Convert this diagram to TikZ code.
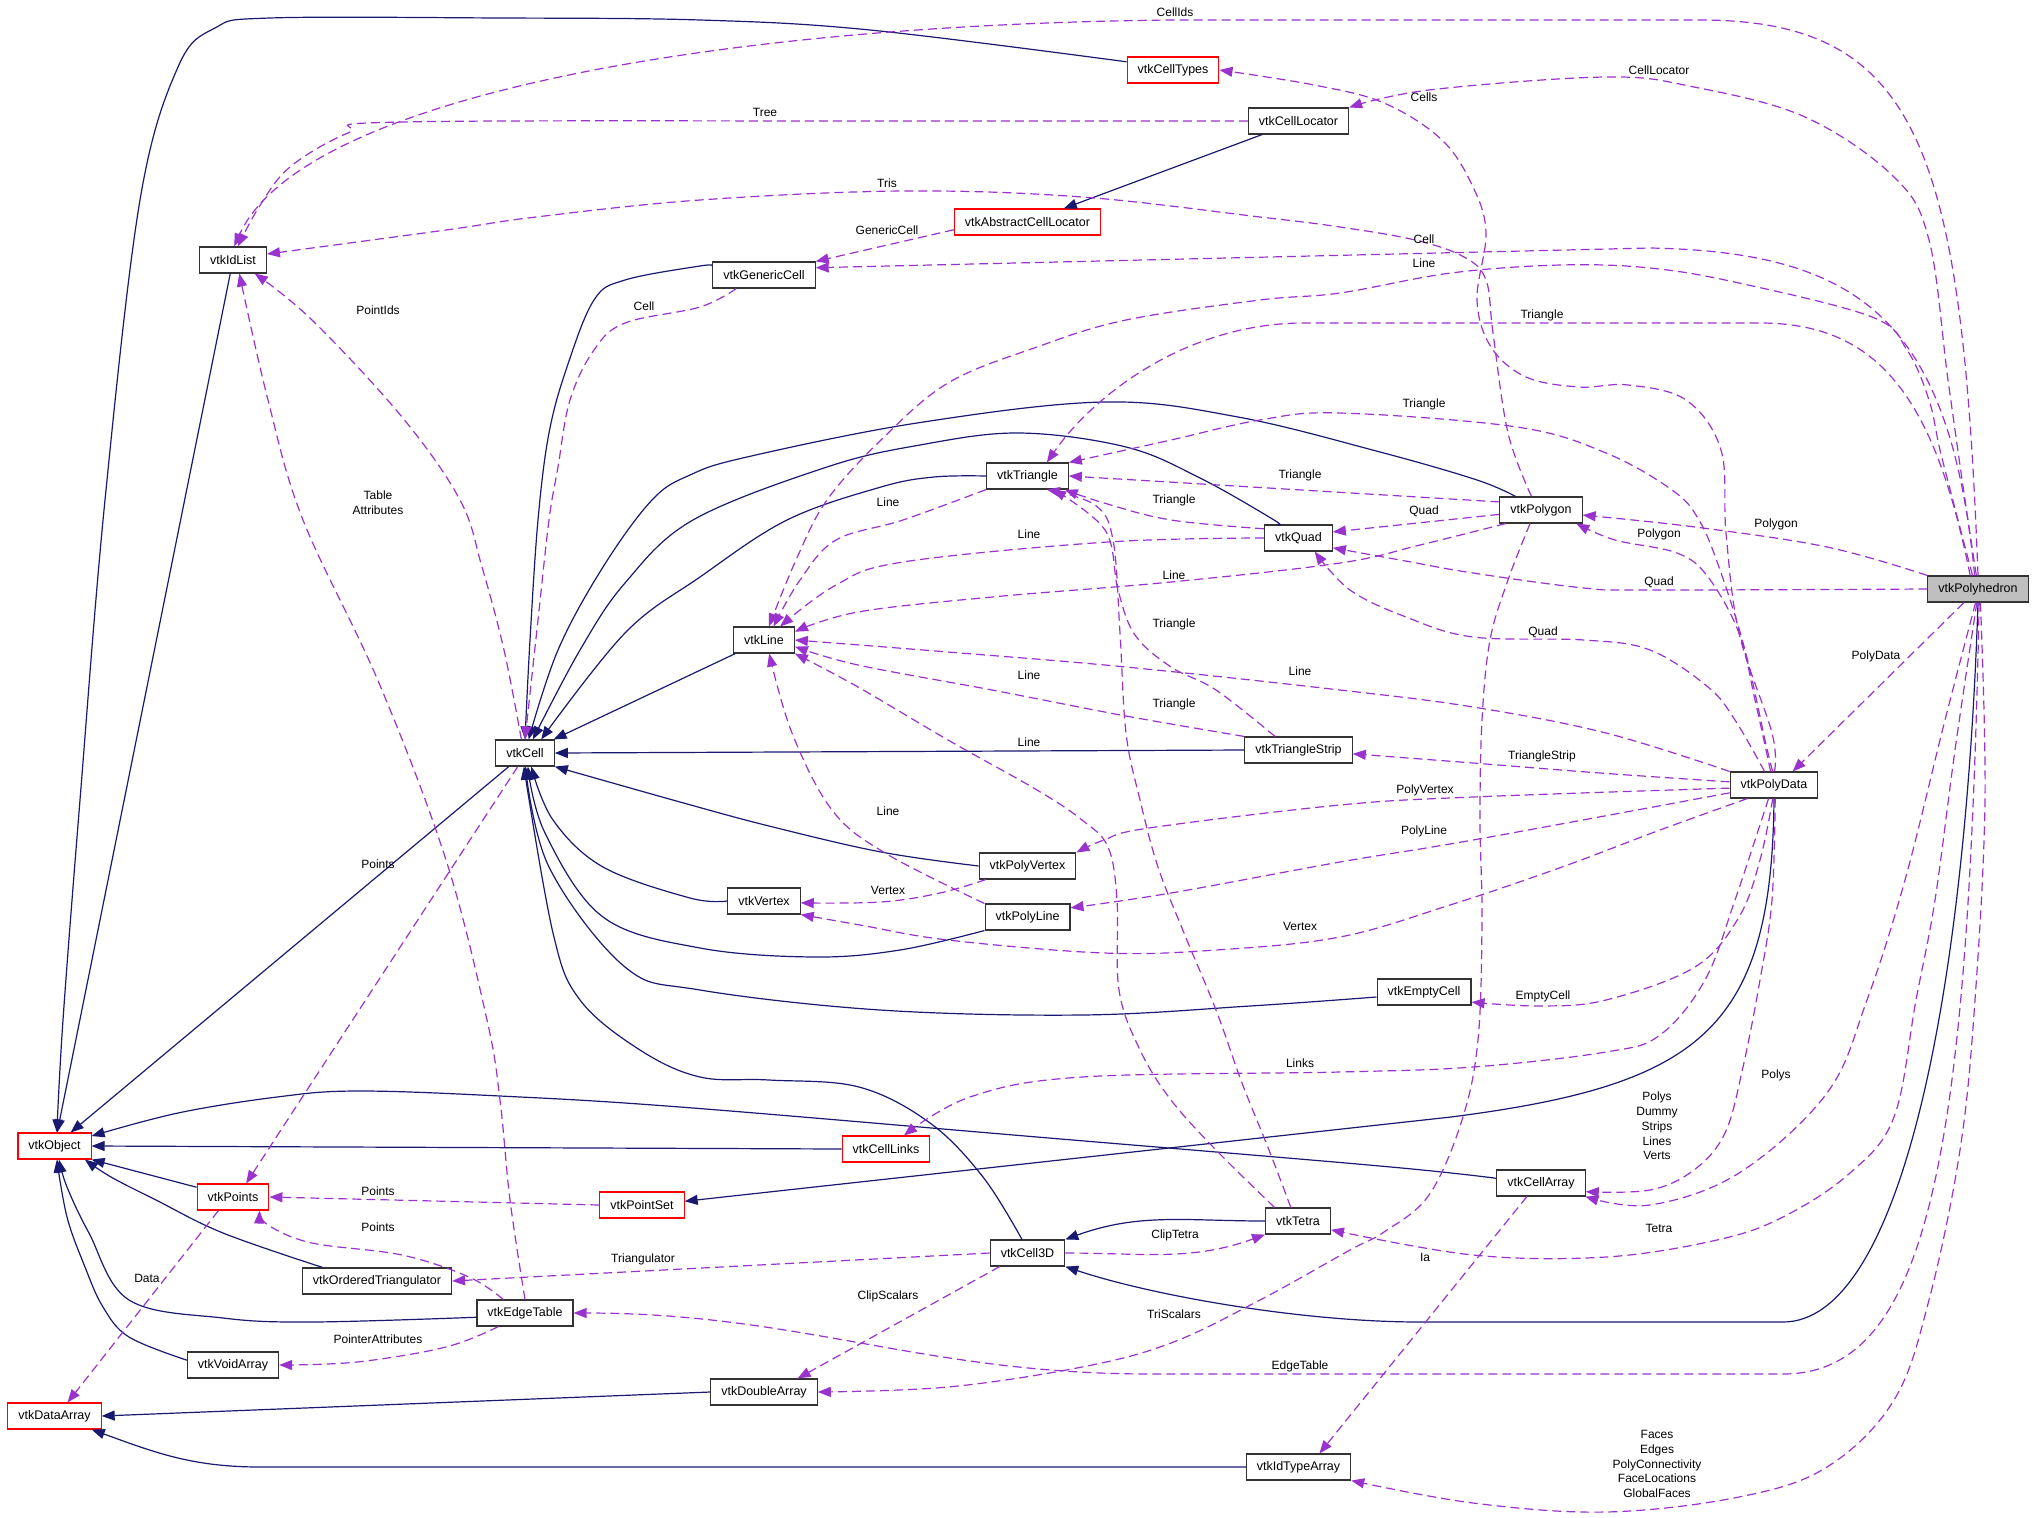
\documentclass[tikz,border=0pt]{standalone}
\usepackage{fontspec}
\setmainfont{Liberation Sans}
\usepackage{xcolor}
\usepackage{tikz}
\usetikzlibrary{arrows.meta}
\definecolor{edgenavy}{HTML}{191970}
\definecolor{edgeviolet}{HTML}{9A32CD}
\definecolor{truncred}{HTML}{FF0000}
\definecolor{focusgray}{HTML}{BFBFBF}

\begin{document}
\begin{tikzpicture}[
  x=1pt, y=-1pt,
  cls/.style={rectangle,draw=black!80,fill=white,line width=1.1pt,
    minimum height=26pt,inner xsep=10.5pt,inner ysep=0pt,
    font=\fontsize{12.5}{14}\selectfont},
  trunc/.style={cls,draw=truncred},
  focus/.style={cls,fill=focusgray},
  inh/.style={draw=edgenavy,line width=1.2pt,smooth,tension=0.6,
    -{Triangle[length=13pt,width=10pt]}},
  dep/.style={draw=edgeviolet,line width=1.2pt,smooth,tension=0.6,
    dash pattern=on 9pt off 5pt,-{Triangle[length=13pt,width=10pt]}},
  lbl/.style={font=\fontsize{12}{14.7}\selectfont,inner sep=0pt,align=center}
]
  \useasboundingbox (0,0) rectangle (2035,1518);

  \node[cls] (idlist) at (233,260) {vtkIdList};
  \node[trunc] (celltypes) at (1173,70) {vtkCellTypes};
  \node[cls] (locator) at (1298.5,121) {vtkCellLocator};
  \node[trunc] (absloc) at (1027.5,222) {vtkAbstractCellLocator};
  \node[cls] (gencell) at (764,275) {vtkGenericCell};
  \node[cls] (tri) at (1027.5,476) {vtkTriangle};
  \node[cls] (polygon) at (1541,510) {vtkPolygon};
  \node[cls] (quad) at (1298.5,538) {vtkQuad};
  \node[cls] (line) at (764,640) {vtkLine};
  \node[cls] (cell) at (525,753) {vtkCell};
  \node[cls] (strip) at (1298.5,750) {vtkTriangleStrip};
  \node[cls] (pvertex) at (1027.5,866) {vtkPolyVertex};
  \node[cls] (vertex) at (764,901) {vtkVertex};
  \node[cls] (pline) at (1027.5,917) {vtkPolyLine};
  \node[cls] (empty) at (1424,992) {vtkEmptyCell};
  \node[focus] (phedron) at (1978,589) {vtkPolyhedron};
  \node[cls] (pdata) at (1774,785) {vtkPolyData};
  \node[trunc] (object) at (54.5,1146) {vtkObject};
  \node[trunc] (points) at (233,1197) {vtkPoints};
  \node[trunc] (pset) at (642,1205) {vtkPointSet};
  \node[trunc] (links) at (886,1149) {vtkCellLinks};
  \node[cls] (otri) at (377,1281) {vtkOrderedTriangulator};
  \node[cls] (etable) at (525,1313) {vtkEdgeTable};
  \node[cls] (tetra) at (1298,1221) {vtkTetra};
  \node[cls] (cell3d) at (1027.5,1253) {vtkCell3D};
  \node[cls] (carray) at (1541,1183) {vtkCellArray};
  \node[cls] (voidarr) at (233,1365) {vtkVoidArray};
  \node[trunc] (darray) at (54.5,1416) {vtkDataArray};
  \node[cls] (dblarr) at (764,1392) {vtkDoubleArray};
  \node[cls] (idtarr) at (1298.5,1467) {vtkIdTypeArray};

  \draw[inh] plot coordinates {(celltypes.170) (870,30) (700,20) (500,18) (270,18) (215,28) (178,67) (140,200) (105,500) (80,800) (63,1020) (object.80)};
  \draw[inh] (idlist) -- (object);
  \draw[inh] (locator) -- (absloc);
  \draw[inh] plot coordinates {(gencell.170) (700,266) (625,280) (594,300) (567,367) (549,433) (538,520) (530,640) (cell.north)};
  \draw[inh] plot coordinates {(tri.west) (934,477) (881,487) (787,520) (700,577) (625,633) (cell.40)};
  \draw[inh] plot coordinates {(quad.148) (1274,520) (1200,478) (1126,447) (1019,433) (920,445) (827,467) (693,520) (625,583) (580,650) (cell.60)};
  \draw[inh] plot coordinates {(polygon.152) (1477,480) (1380,452) (1238,417) (1104,402) (917,423) (747,457) (690,475) (652,500) (603,567) (558,650) (cell.75)};
  \draw[inh] (line) -- (cell);
  \draw[inh] (strip.west) -- (cell.east);
  \draw[inh] plot coordinates {(pvertex.west) (881,852) (769,826) (680,802) (cell.south east)};
  \draw[inh] plot coordinates {(vertex.west) (690,898) (603,867) (553,820) (cell.-65)};
  \draw[inh] plot coordinates {(pline.south west) (900,950) (814,957) (700,948) (603,917) (545,833) (cell.-78)};
  \draw[inh] plot coordinates {(empty.186) (1250,1006) (1082,1015) (880,1010) (700,990) (625,967) (549,867) (cell.-88)};
  \draw[inh] plot coordinates {(cell3d.112) (983,1177) (930,1123) (859,1087) (769,1080) (700,1077) (640,1050) (580,1000) (553,933) (cell.-95)};
  \draw[inh] (cell) -- (object);
  \draw[inh] (links.west) -- (object.east);
  \draw[inh] plot coordinates {(carray.174) (1380,1166) (1037,1137) (680,1107) (500,1096) (357,1091) (277,1097) (178,1113) (object.15)};
  \draw[inh] (points.165) -- (object.south east);
  \draw[inh] plot coordinates {(otri.166) (223,1233) (156,1200) (111,1177) (object.-24)};
  \draw[inh] plot coordinates {(etable.185) (312,1322) (223,1318) (129,1300) (89,1233) (67,1187) (object.-72)};
  \draw[inh] plot coordinates {(voidarr.174) (129,1337) (103,1307) (85,1267) (67,1217) (object.-80)};
  \draw[inh] (pdata.south) .. controls (1772,1030) and (1700,1085) .. (1451,1117) -- (pset.5);
  \draw[inh] (tetra.west) to[out=180,in=20] (cell3d.north east);
  \draw[inh] (phedron.south) .. controls (1965,1000) and (1900,1322) .. (1783,1322) -- (1420,1322) .. controls (1300,1322) and (1150,1295) .. (cell3d.south east);
  \draw[inh] (dblarr.west) -- (darray.east);
  \draw[inh] (idtarr.west) -- (260,1467) to[out=180,in=-20] (darray.-20);

  \draw[dep] (phedron.90) .. controls (1962,150) and (1920,20) .. (1700,20) -- (1171,20) .. controls (700,25) and (300,100) .. (idlist.85);
  \draw[dep] plot coordinates {(phedron.97) (1965,500) (1948,380) (1929,240) (1894,177) (1805,117) (1694,87) (1606,77) (1429,90) (locator.north east)};
  \draw[dep] plot coordinates {(pdata.88) (1772,733) (1739,633) (1726,533) (1721,450) (1686,400) (1628,385) (1579,387) (1526,377) (1491,347) (1477,300) (1486,233) (1473,187) (1442,140) (1384,103) (1314,85) (celltypes.east)};
  \draw[dep] plot coordinates {(locator.west) (900,121) (402,122) (348,133) (290,167) (259,207) (idlist.70)};
  \draw[dep] plot coordinates {(polygon.125) (1508,433) (1493,333) (1486,280) (1464,257) (1415,240) (1340,227) (1260,217) (1082,197) (903,191) (700,200) (536,217) (446,230) (idlist.10)};
  \draw[dep] (absloc.186) -- (gencell.north east);
  \draw[dep] (phedron.104) .. controls (1950,320) and (1860,252) .. (1650,248) -- (gencell.8);
  \draw[dep] plot coordinates {(phedron.112) (1958,520) (1940,450) (1929,400) (1907,350) (1872,317) (1739,283) (1650,268) (1561,265) (1451,273) (1340,293) (1260,300) (1126,320) (1037,347) (948,383) (881,440) (827,500) (796,560) (line.70)};
  \draw[dep] plot coordinates {(cell.105) (504,650) (482,567) (460,500) (402,417) (312,320) (idlist.-32)};
  \draw[dep] plot coordinates {(gencell.206) (700,307) (625,323) (594,350) (570,400) (558,467) (549,520) (538,620) (cell.north)};
  \draw[dep] (phedron.120) .. controls (1935,400) and (1880,323) .. (1760,323) -- (1300,323) .. controls (1180,325) and (1090,400) .. (tri.35);
  \draw[dep] plot coordinates {(pdata.96) (1765,740) (1745,650) (1720,570) (1699,520) (1672,490) (1606,453) (1517,427) (1340,413) (1260,420) (1171,440) (tri.north east)};
  \draw[dep] (polygon.169) -- (tri.east);
  \draw[dep] plot coordinates {(etable.north) (510,1200) (500,1100) (487,1020) (446,860) (379,683) (303,520) (268,400) (idlist.-65)};
  \draw[dep] plot coordinates {(tri.south west) (903,520) (836,540) (800,580) (line.55)};
  \draw[dep] plot coordinates {(quad.165) (1171,520) (1104,503) (tri.-20)};
  \draw[dep] (polygon.186) -- (quad.10);
  \draw[dep] plot coordinates {(phedron.north west) (1827,547) (1695,527) (polygon.-7)};
  \draw[dep] plot coordinates {(quad.west) (1108,542) (903,562) (836,585) (line.40)};
  \draw[dep] plot coordinates {(pdata.104) (1755,700) (1739,633) (1708,577) (1677,553) (1615,540) (polygon.-21)};
  \draw[dep] plot coordinates {(polygon.201) (1420,545) (1340,563) (1171,582) (992,597) (858,612) (line.15)};
  \draw[dep] plot coordinates {(phedron.west) (1650,590) (1584,588) (1473,573) (1400,560) (quad.-16)};
  \draw[dep] plot coordinates {(strip.150) (1216,690) (1171,667) (1135,635) (1118,590) (1105,530) (tri.-28)};
  \draw[dep] plot coordinates {(pdata.125) (1735,720) (1708,687) (1650,650) (1584,640) (1473,637) (1406,617) (1350,590) (quad.-40)};
  \draw[dep] (phedron.224) -- (pdata.36);
  \draw[dep] plot coordinates {(pdata.north west) (1606,733) (1473,707) (1340,690) (1126,667) (948,652) (line.east)};
  \draw[dep] plot coordinates {(strip.north west) (1126,716) (992,690) (858,665) (line.-12)};
  \draw[dep] plot coordinates {(tetra.118) (1269,1150) (1242,1083) (1216,1010) (1184,933) (1158,867) (1140,800) (1126,733) (1120,633) (1113,540) (1095,505) (tri.-35)};
  \draw[dep] plot coordinates {(tetra.150) (1216,1150) (1171,1100) (1140,1050) (1119,990) (1117,900) (1108,847) (1082,820) (1037,790) (948,740) (858,687) (line.south east)};
  \draw[dep] plot coordinates {(pdata.176) (1600,773) (1473,763) (strip.-4)};
  \draw[dep] plot coordinates {(pdata.184) (1473,797) (1340,805) (1149,828) (1104,840) (pvertex.north east)};
  \draw[dep] plot coordinates {(pline.north west) (885,853) (832,810) (792,733) (line.-69)};
  \draw[dep] plot coordinates {(pdata.190) (1473,840) (1340,862) (1171,893) (pline.12)};
  \draw[dep] plot coordinates {(pvertex.198) (940,893) (881,902) (vertex.-3)};
  \draw[dep] plot coordinates {(pdata.207) (1660,830) (1562,867) (1450,905) (1340,937) (1216,950) (1104,953) (948,940) (860,925) (vertex.south east)};
  \draw[dep] plot coordinates {(pdata.-95) (1760,860) (1739,917) (1695,967) (1606,1000) (1540,1006) (empty.-12)};
  \draw[dep] plot coordinates {(pdata.-112) (1735,900) (1705,980) (1660,1035) (1606,1052) (1473,1067) (1340,1072) (1082,1077) (970,1097) (links.37)};
  \draw[dep] (cell.-118) -- (points.46);
  \draw[dep] plot coordinates {(phedron.-100) (1945,720) (1905,880) (1867,1000) (1827,1093) (1739,1173) (1650,1205) (carray.-17)};
  \draw[dep] plot coordinates {(pdata.-85) (1772,900) (1760,980) (1743,1067) (1725,1133) (1694,1170) (1650,1190) (carray.-11)};
  \draw[dep] (pset.west) -- (points.east);
  \draw[dep] plot coordinates {(etable.148) (469,1277) (402,1255) (312,1243) (268,1225) (points.-27)};
  \draw[dep] (cell3d.west) -- (otri.east);
  \draw[dep] (cell3d.east) to[out=0,in=200] (tetra.south west);
  \draw[dep] plot coordinates {(phedron.-95) (1955,750) (1935,900) (1916,1000) (1894,1117) (1850,1173) (1783,1217) (1717,1240) (1606,1257) (1473,1255) (tetra.-15)};
  \draw[dep] (carray.-136) -- (idtarr.33);
  \draw[dep] (points.223) -- (darray.46);
  \draw[dep] (cell3d.206) -- (dblarr.22);
  \draw[dep] plot coordinates {(polygon.231) (1508,580) (1490,640) (1482,720) (1480,820) (1482,920) (1478,1040) (1462,1120) (1429,1195) (1384,1232) (1350,1250) (1260,1300) (1171,1343) (1082,1367) (948,1387) (dblarr.east)};
  \draw[dep] plot coordinates {(etable.207) (446,1347) (357,1362) (voidarr.east)};
  \draw[dep] (phedron.-85) .. controls (1968,1150) and (1930,1374) .. (1783,1374) -- (1150,1374) to[out=180,in=0] (etable.east);
  \draw[dep] plot coordinates {(phedron.-80) (1985,800) (1975,1000) (1960,1150) (1929,1300) (1894,1400) (1827,1467) (1739,1497) (1606,1512) (1473,1503) (idtarr.south east)};

  \node[lbl] (l1) at (1175,12) {CellIds};
  \node[lbl] (l2) at (1659,70) {CellLocator};
  \node[lbl] (l3) at (1424,97) {Cells};
  \node[lbl] (l4) at (765,112) {Tree};
  \node[lbl] (l5) at (887,183) {Tris};
  \node[lbl] (l6) at (887,230) {GenericCell};
  \node[lbl] (l7) at (1424,239) {Cell};
  \node[lbl] (l8) at (1424,263) {Line};
  \node[lbl] (l9) at (378,310) {PointIds};
  \node[lbl] (l10) at (644,306) {Cell};
  \node[lbl] (l11) at (1542,315) {Triangle};
  \node[lbl] (l12) at (1424,404) {Triangle};
  \node[lbl] (l13) at (1300,475) {Triangle};
  \node[lbl] (l14) at (378,503) {Table\\Attributes};
  \node[lbl] (l15) at (888,502) {Line};
  \node[lbl] (l16) at (1174,500) {Triangle};
  \node[lbl] (l17) at (1424,511) {Quad};
  \node[lbl] (l18) at (1776,524) {Polygon};
  \node[lbl] (l19) at (1029,534) {Line};
  \node[lbl] (l20) at (1659,534) {Polygon};
  \node[lbl] (l21) at (1174,575) {Line};
  \node[lbl] (l22) at (1659,582) {Quad};
  \node[lbl] (l23) at (1174,624) {Triangle};
  \node[lbl] (l24) at (1543,632) {Quad};
  \node[lbl] (l25) at (1876,656) {PolyData};
  \node[lbl] (l26) at (1300,671) {Line};
  \node[lbl] (l27) at (1029,675) {Line};
  \node[lbl] (l28) at (1174,704) {Triangle};
  \node[lbl] (l29) at (1029,742) {Line};
  \node[lbl] (l30) at (1542,756) {TriangleStrip};
  \node[lbl] (l31) at (1425,790) {PolyVertex};
  \node[lbl] (l32) at (888,811) {Line};
  \node[lbl] (l33) at (1424,831) {PolyLine};
  \node[lbl] (l34) at (888,890) {Vertex};
  \node[lbl] (l35) at (1300,926) {Vertex};
  \node[lbl] (l36) at (378,864) {Points};
  \node[lbl] (l37) at (1543,996) {EmptyCell};
  \node[lbl] (l38) at (1300,1063) {Links};
  \node[lbl] (l39) at (1776,1075) {Polys};
  \node[lbl] (l40) at (1657,1126) {Polys\\Dummy\\Strips\\Lines\\Verts};
  \node[lbl] (l41) at (378,1191) {Points};
  \node[lbl] (l42) at (378,1227) {Points};
  \node[lbl] (l43) at (643,1259) {Triangulator};
  \node[lbl] (l44) at (1175,1235) {ClipTetra};
  \node[lbl] (l45) at (1659,1228) {Tetra};
  \node[lbl] (l46) at (1425,1257) {Ia};
  \node[lbl] (l47) at (147,1278) {Data};
  \node[lbl] (l48) at (888,1296) {ClipScalars};
  \node[lbl] (l49) at (1174,1314) {TriScalars};
  \node[lbl] (l50) at (378,1339) {PointerAttributes};
  \node[lbl] (l51) at (1300,1366) {EdgeTable};
  \node[lbl] (l52) at (1657,1464) {Faces\\Edges\\PolyConnectivity\\FaceLocations\\GlobalFaces};
\end{tikzpicture}
\end{document}
